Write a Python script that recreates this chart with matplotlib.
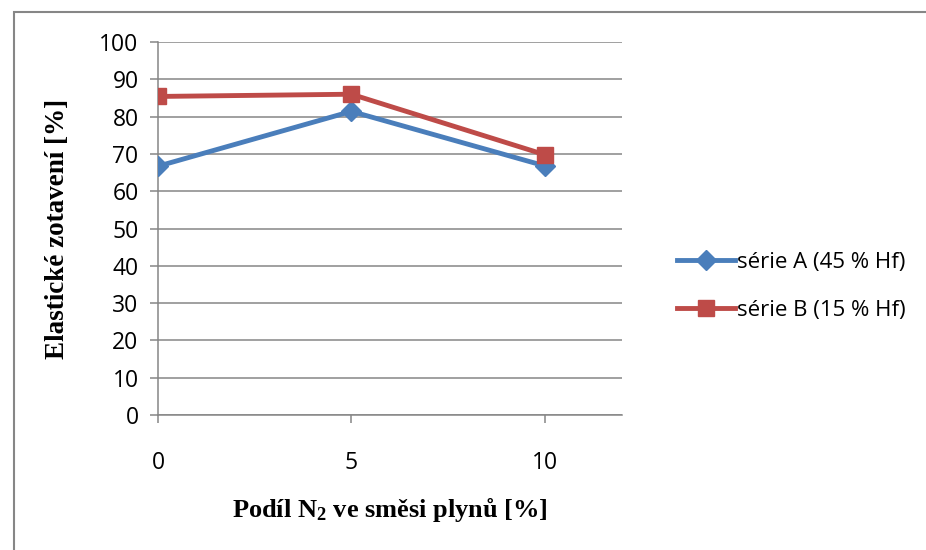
import matplotlib
matplotlib.use("Agg")
import matplotlib.pyplot as plt
from matplotlib.patches import Rectangle

# podíl dusíku ve směsi plynů [%]
podil_n2 = [0, 5, 10]
# elastické zotavení [%]
serie_a = [66.7, 81.4, 66.8]
serie_b = [85.4, 86.0, 69.8]
nazvy = ["série A (45 % Hf)", "série B (15 % Hf)"]
y_ticks = list(range(0, 101, 10))
x_ticks = [0, 5, 10]

plt.rcParams["mathtext.fontset"] = "custom"
plt.rcParams["mathtext.rm"] = "Liberation Serif:bold"
plt.rcParams["mathtext.bf"] = "Liberation Serif:bold"
plt.rcParams["mathtext.it"] = "Liberation Serif:bold"

fig = plt.figure(figsize=(9.26, 5.5), dpi=100)
ax = fig.add_axes([158 / 926, 1 - 415 / 550, (622 - 158) / 926, (415 - 42) / 550])

seda = "#868686"
modra = "#4A7EBB"
cervena = "#BE4B48"

# ramecek kolem grafu
fig.patches.append(Rectangle((14 / 926, -0.05), 1.2, 1 - 12 / 550 + 0.05,
                             transform=fig.transFigure, fill=False,
                             edgecolor=seda, linewidth=1.5))

ax.plot(podil_n2, serie_a, color=modra, linewidth=3.5, marker="D",
        markersize=10, label=nazvy[0], zorder=3)
ax.plot(podil_n2, serie_b, color=cervena, linewidth=3.5, marker="s",
        markersize=12, label=nazvy[1], zorder=4)

ax.set_xlim(0, 12)
ax.set_ylim(0, 100)
ax.set_yticks(y_ticks)
ax.set_xticks(x_ticks)
ax.yaxis.grid(True, color=seda, linewidth=1.1)
ax.set_axisbelow(True)
for s in ["top", "right"]:
    ax.spines[s].set_visible(False)
for s in ["left", "bottom"]:
    ax.spines[s].set_color(seda)
    ax.spines[s].set_linewidth(1.1)
ax.tick_params(axis="y", length=6, width=1.1, color=seda, pad=8,
               labelsize=16.5, labelfontfamily="Open Sans")
ax.tick_params(axis="x", length=6, width=1.1, color=seda, pad=20,
               labelsize=16.5, labelfontfamily="Open Sans")

ax.set_ylabel("Elastické zotavení [%]", fontfamily="Liberation Serif",
              fontweight="bold", fontsize=19.5)
ax.yaxis.set_label_coords(-0.19, 0.5)
ax.set_xlabel("Podíl N$_2$ ve směsi plynů [%]", fontfamily="Liberation Serif",
              fontweight="bold", fontsize=19)
ax.xaxis.set_label_coords(0.5, -0.215)

leg = ax.legend(loc="center left", bbox_to_anchor=(1.075, 0.345), frameon=False,
                prop={"family": "Open Sans", "size": 16}, handlelength=2.6,
                handletextpad=0.1, labelspacing=1.2)

fig.savefig("out.png", dpi=100)
